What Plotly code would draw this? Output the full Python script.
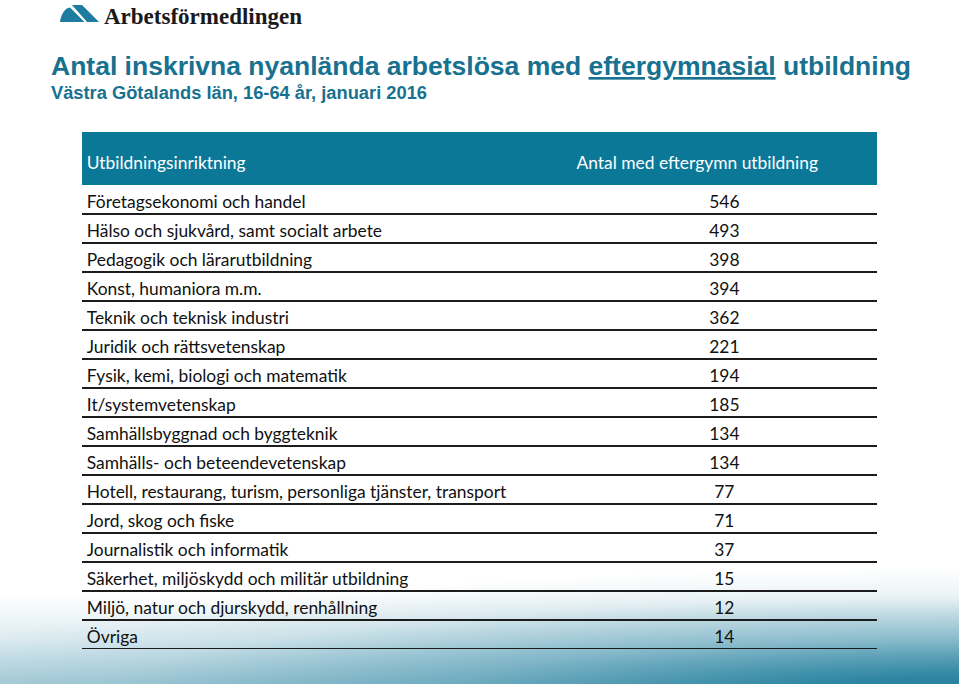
import base64
import plotly.graph_objects as go

# table content
headerLabels = ["Utbildningsinriktning", "Antal med eftergymn utbildning"]
categories = [
    "Företagsekonomi och handel",
    "Hälso och sjukvård, samt socialt arbete",
    "Pedagogik och lärarutbildning",
    "Konst, humaniora m.m.",
    "Teknik och teknisk industri",
    "Juridik och rättsvetenskap",
    "Fysik, kemi, biologi och matematik",
    "It/systemvetenskap",
    "Samhällsbyggnad och byggteknik",
    "Samhälls- och beteendevetenskap",
    "Hotell, restaurang, turism, personliga tjänster, transport",
    "Jord, skog och fiske",
    "Journalistik och informatik",
    "Säkerhet, miljöskydd och militär utbildning",
    "Miljö, natur och djurskydd, renhållning",
    "Övriga",
]
values = [546, 493, 398, 394, 362, 221, 194, 185, 134, 134, 77, 71, 37, 15, 12, 14]

title = "Antal inskrivna nyanlända arbetslösa med <u>eftergymnasial</u> utbildning"
subtitle = "Västra Götalands län, 16-64 år, januari 2016"
logoText = "Arbetsförmedlingen"

W, H = 959, 684
BLUE = "#0b7898"
TITLE_BLUE = "#17718f"
headH = 53 / 29          # header height in row units
FONT = dict(family="Lato", size=17.4, color="#111")


def px(x):               # pixel -> paper
    return x / W


def py(y):
    return 1 - y / H


fig = go.Figure()

# row separator lines
lx, ly = [], []
for i in range(len(categories)):
    lx += [0, 1, None]
    ly += [i + 1, i + 1, None]
fig.add_trace(go.Scatter(x=lx, y=ly, mode="lines", line=dict(color="#1c1c1c", width=2),
                         xaxis="x2", yaxis="y2", hoverinfo="skip"))

rowY = [i + 0.65 for i in range(len(categories))]
fig.add_trace(go.Scatter(x=[0.006] * len(categories), y=rowY, mode="text", text=categories,
                         textposition="middle right", textfont=FONT,
                         xaxis="x2", yaxis="y2", hoverinfo="skip"))
fig.add_trace(go.Scatter(x=[0.808] * len(values), y=rowY, mode="text", text=[str(v) for v in values],
                         textposition="middle center", textfont=FONT,
                         xaxis="x2", yaxis="y2", hoverinfo="skip"))
# header labels
fig.add_trace(go.Scatter(x=[0.006, 0.622], y=[-0.69, -0.69], mode="text", text=headerLabels,
                         textposition="middle right", textfont=dict(FONT, color="white"),
                         xaxis="x2", yaxis="y2", hoverinfo="skip"))

shapes = []
# header band
shapes.append(dict(type="rect", xref="x2", yref="y2", x0=0, x1=1, y0=-headH, y1=0,
                   fillcolor=BLUE, line=dict(width=0), layer="below"))

# logo mark
shapes.append(dict(type="path", xref="paper", yref="paper",
                   path=(f"M {px(72)},{py(5)} L {px(82)},{py(5)} L {px(99)},{py(22)} "
                         f"L {px(87)},{py(22)} Z"),
                   fillcolor="#1e7ca0", line=dict(width=0)))
shapes.append(dict(type="path", xref="paper", yref="paper",
                   path=(f"M {px(60)},{py(22)} C {px(61)},{py(14)} {px(65)},{py(8)} "
                         f"{px(70)},{py(7.5)} L {px(84.5)},{py(22)} Z"),
                   fillcolor="#1e7ca0", line=dict(width=0)))

# bottom decorative gradient as an inline svg
svg = """<svg xmlns="http://www.w3.org/2000/svg" width="959" height="144" viewBox="0 0 959 144" preserveAspectRatio="none">
<defs>
<linearGradient id="v" x1="0" y1="0" x2="0" y2="1">
<stop offset="0.38" stop-color="#1b7b9b" stop-opacity="0"/>
<stop offset="0.7" stop-color="#1b7b9b" stop-opacity="0.15"/>
<stop offset="1" stop-color="#1b7b9b" stop-opacity="0.37"/>
</linearGradient>
<radialGradient id="r" gradientUnits="userSpaceOnUse" cx="979" cy="160" r="1150"
 gradientTransform="translate(979 160) scale(1 0.115) translate(-979 -160)">
<stop offset="0" stop-color="#16728f" stop-opacity="0.95"/>
<stop offset="0.18" stop-color="#1a7a99" stop-opacity="0.86"/>
<stop offset="0.47" stop-color="#1b7b9b" stop-opacity="0.42"/>
<stop offset="0.77" stop-color="#1b7b9b" stop-opacity="0.1"/>
<stop offset="1" stop-color="#1b7b9b" stop-opacity="0"/>
</radialGradient>
</defs>
<rect width="959" height="144" fill="url(#v)"/>
<rect width="959" height="144" fill="url(#r)"/>
</svg>"""
bg = "data:image/svg+xml;base64," + base64.b64encode(svg.encode()).decode()

annotations = [
    dict(xref="paper", yref="paper", x=px(102), y=py(16), xanchor="left", yanchor="middle",
         text="<b>" + logoText + "</b>", showarrow=False,
         font=dict(family="Liberation Serif", size=23, color="#1a1a1a")),
    dict(xref="paper", yref="paper", x=px(49), y=py(66), xanchor="left", yanchor="middle",
         text="<b>" + title + "</b>", showarrow=False,
         font=dict(family="Liberation Sans", size=26.5, color=TITLE_BLUE)),
    dict(xref="paper", yref="paper", x=px(49), y=py(93), xanchor="left", yanchor="middle",
         text="<b>" + subtitle + "</b>", showarrow=False,
         font=dict(family="Liberation Sans", size=18.3, color=TITLE_BLUE)),
]

fig.update_layout(
    width=W, height=H,
    margin=dict(l=0, r=0, t=0, b=0),
    paper_bgcolor="white", plot_bgcolor="rgba(0,0,0,0)",
    showlegend=False, hovermode=False,
    shapes=shapes, annotations=annotations,
    images=[dict(source=bg, xref="paper", yref="paper", x=0, y=py(540), sizex=1,
                 sizey=144 / H, xanchor="left", yanchor="top", sizing="stretch", layer="below")],
    xaxis2=dict(domain=[px(82), px(877)], range=[0, 1], anchor="y2", visible=False, fixedrange=True),
    yaxis2=dict(domain=[py(649), py(132)], range=[len(categories), -headH], anchor="x2",
                visible=False, fixedrange=True),
)

fig.write_html("out.html", config={"displayModeBar": False},
               post_script="document.body.style.margin='0px';")
